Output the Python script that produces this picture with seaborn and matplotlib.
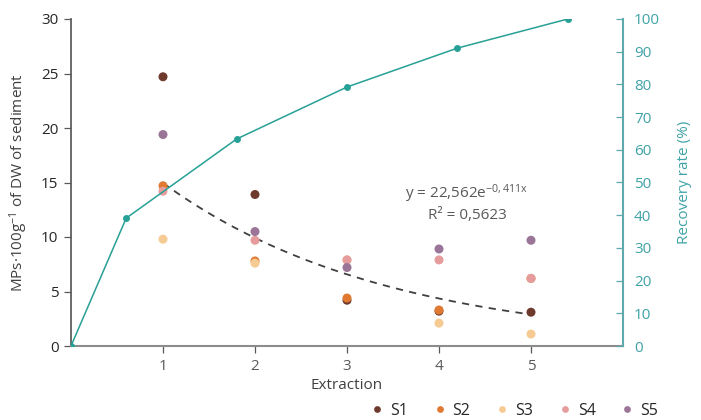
import numpy as np
import pandas as pd
import matplotlib
matplotlib.use("Agg")
import matplotlib.pyplot as plt
import seaborn as sns

# Microplastic counts per extraction for each sample
extraction = [1, 2, 3, 4, 5]
s1 = [24.7, 13.9, 4.2, 3.2, 3.1]
s2 = [14.7, 7.8, 4.4, 3.3, 6.2]
s3 = [9.8, 7.6, 7.9, 2.1, 1.1]
s4 = [14.2, 9.7, 7.9, 7.9, 6.2]
s5 = [19.4, 10.5, 7.2, 8.9, 9.7]
samples = ["S1", "S2", "S3", "S4", "S5"]

# Cumulative recovery rate (%)
recovery_x = [0, 0.6, 1.8, 3.0, 4.2, 5.4]
recovery = [0, 39.1, 63.3, 79.2, 91.1, 100]

# Exponential trendline coefficients
fit_a, fit_b = 22.562, -0.411

colors = ["#6f3a2e", "#e07a32", "#f5cb93", "#e69c9c", "#9b7597"]
teal = "#27a096"
teal_text = "#3fa2a6"
grey_text = "#404040"

sns.set_theme(style="white")
plt.rcParams["font.family"] = ["Open Sans", "DejaVu Sans"]
plt.rcParams["mathtext.fontset"] = "custom"
plt.rcParams["mathtext.rm"] = "Open Sans"
plt.rcParams["mathtext.it"] = "Open Sans"
plt.rcParams["mathtext.bf"] = "Open Sans:bold"

df = pd.DataFrame({
    "Extraction": extraction * 5,
    "value": s1 + s2 + s3 + s4 + s5,
    "sample": [s for s in samples for _ in extraction],
})

fig = plt.figure(figsize=(7.01, 4.2), dpi=100)
ax = fig.add_axes([71 / 701, 1 - 346 / 420, 552 / 701, 327 / 420])

sns.scatterplot(data=df, x="Extraction", y="value", hue="sample",
                palette=colors, s=42, edgecolor="none", ax=ax, legend=True,
                zorder=3)

xs = np.linspace(1, 5, 100)
ax.plot(xs, fit_a * np.exp(fit_b * xs), color="#404040", lw=1.3,
        ls=(0, (4, 3.5)), zorder=2)

ax.set_xlim(0, 6)
ax.set_ylim(0, 30)
ax.set_xticks(extraction)
ax.set_yticks(range(0, 31, 5))
ax.set_xlabel("Extraction", fontsize=11, color=grey_text, labelpad=3)
ax.set_ylabel(r"MPs·100g$^{\mathregular{-1}}$ of DW of sediment", fontsize=11,
              color=grey_text, labelpad=8)

for side in ["top", "right"]:
    ax.spines[side].set_visible(False)
ax.spines["left"].set_color("#595959")
ax.spines["bottom"].set_color("#8c8c8c")
ax.spines["bottom"].set_linewidth(1.5)
ax.tick_params(axis="y", direction="out", length=5, width=0.9, color="#595959",
               labelsize=11, labelcolor="#262626", left=True, pad=4)
ax.tick_params(axis="x", direction="out", length=5, width=0.9, color="#595959",
               labelsize=11, labelcolor="#595959", bottom=True, pad=4)

ax.text(467 / 701, 1 - 194 / 420, r"y = 22,562e$^{\mathregular{-0,411x}}$",
        transform=fig.transFigure, fontsize=11, color="#595959",
        ha="center", va="center")
ax.text(467 / 701, 1 - 216 / 420, "R² = 0,5623", transform=fig.transFigure,
        fontsize=11, color="#595959", ha="center", va="center")

ax2 = ax.twinx()
rec_df = pd.DataFrame({"x": recovery_x, "rate": recovery})
sns.lineplot(data=rec_df, x="x", y="rate", color=teal, lw=1.1, marker="o",
             markersize=5, markeredgewidth=0, ax=ax2)
ax2.set_ylim(0, 100)
ax2.set_yticks(range(0, 101, 10))
ax2.set_xlim(0, 6)
ax2.set_ylabel("Recovery rate (%)", fontsize=11, color=teal_text, labelpad=12)
for side in ["top", "left", "bottom"]:
    ax2.spines[side].set_visible(False)
ax2.spines["right"].set_color("#5fa9ad")
ax2.spines["right"].set_linewidth(1.5)
ax2.tick_params(axis="y", direction="in", length=5, width=0.9, color="#5fa9ad",
                labelsize=11, labelcolor=teal_text, right=True, pad=8)

# legend at the bottom
handles, labels = ax.get_legend_handles_labels()
ax.get_legend().remove()
fig.legend(handles, labels, loc="center", bbox_to_anchor=(0.727, 0.022),
           ncol=5, frameon=False, fontsize=11.5, handletextpad=-0.2,
           columnspacing=1.0, markerscale=0.75, labelcolor="#262626")

fig.savefig("out.png", dpi=100)
